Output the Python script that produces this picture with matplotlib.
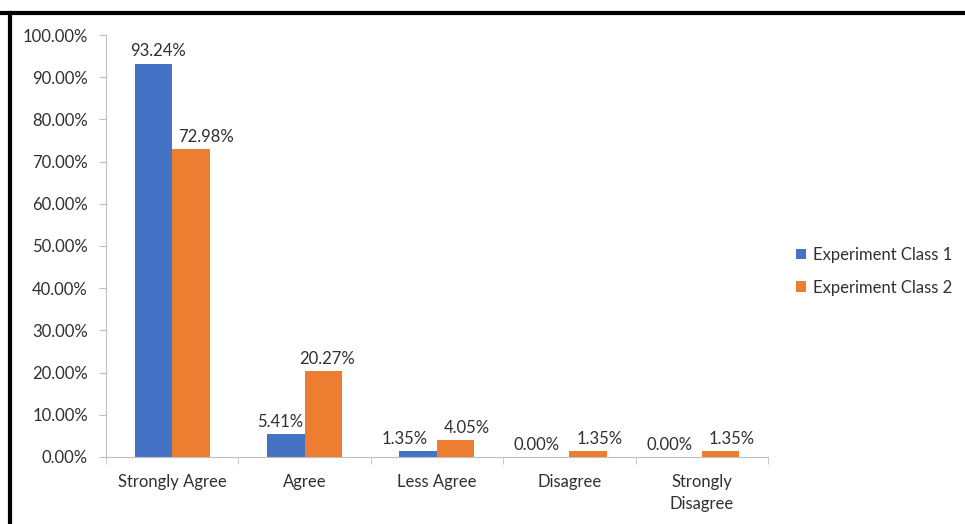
import numpy as np
import matplotlib.pyplot as plt
from matplotlib.lines import Line2D
from matplotlib.ticker import FuncFormatter

categories = ['Strongly Agree', 'Agree', 'Less Agree', 'Disagree', 'Strongly\nDisagree']
class1 = [93.24, 5.41, 1.35, 0.00, 0.00]
class2 = [72.98, 20.27, 4.05, 1.35, 1.35]
series_names = ['Experiment Class 1', 'Experiment Class 2']

plt.rcParams['font.family'] = ['Lato', 'DejaVu Sans']
txt = '#303030'

fig = plt.figure(figsize=(9.65, 5.24), dpi=100)
ax = fig.add_axes([0.1098, 0.1279, 0.686, 0.8053])

x = np.arange(len(categories))
w = 0.283
blue = '#4472C4'
orange = '#ED7D31'
b1 = ax.bar(x - w / 2, class1, w, color=blue, label=series_names[0])
b2 = ax.bar(x + w / 2, class2, w, color=orange, label=series_names[1])

# nudge labels apart like Excel does when they would collide
for i in range(len(categories)):
    v1, v2 = class1[i], class2[i]
    if abs(v1 - v2) < 3:
        d1, d2 = -10, 8
    elif v1 > v2 + 10:
        d1, d2 = 3, 11
    else:
        d1, d2 = -4, 3
    for r, v, d in ((b1[i], v1, d1), (b2[i], v2, d2)):
        ax.annotate('%.2f%%' % v, (r.get_x() + r.get_width() / 2, v),
                    xytext=(d, 3), textcoords='offset points',
                    ha='center', va='bottom', fontsize=12, color=txt)

ax.set_xlim(-0.5, len(categories) - 0.5)
ax.set_ylim(0, 100)
ax.set_yticks(np.arange(0, 101, 10))
ax.yaxis.set_major_formatter(FuncFormatter(lambda v, p: '%.2f%%' % v))
ax.set_xticks(x)
ax.set_xticklabels(categories, linespacing=1.5)
ax.set_xticks(np.arange(-0.5, len(categories), 1), minor=True)
ax.tick_params(axis='x', which='major', length=0, pad=12, labelsize=12, labelcolor=txt)
ax.tick_params(axis='x', which='minor', length=5, color='#BFBFBF')
ax.tick_params(axis='y', length=5, color='#BFBFBF', labelsize=12, labelcolor=txt, pad=8)

for s in ('top', 'right'):
    ax.spines[s].set_visible(False)
for s in ('left', 'bottom'):
    ax.spines[s].set_color('#BFBFBF')

ax.legend(loc='center left', bbox_to_anchor=(1.02, 0.44), frameon=False,
          fontsize=12, handlelength=0.6, handleheight=0.6, handletextpad=0.4,
          labelspacing=1.0, labelcolor=txt)

# black frame on top and left edge
fig.add_artist(Line2D([0, 1], [0.975, 0.975], color='black', lw=3, transform=fig.transFigure))
fig.add_artist(Line2D([0.0104, 0.0104], [0, 0.975], color='black', lw=3, transform=fig.transFigure))

fig.savefig('out.png', dpi=100)
